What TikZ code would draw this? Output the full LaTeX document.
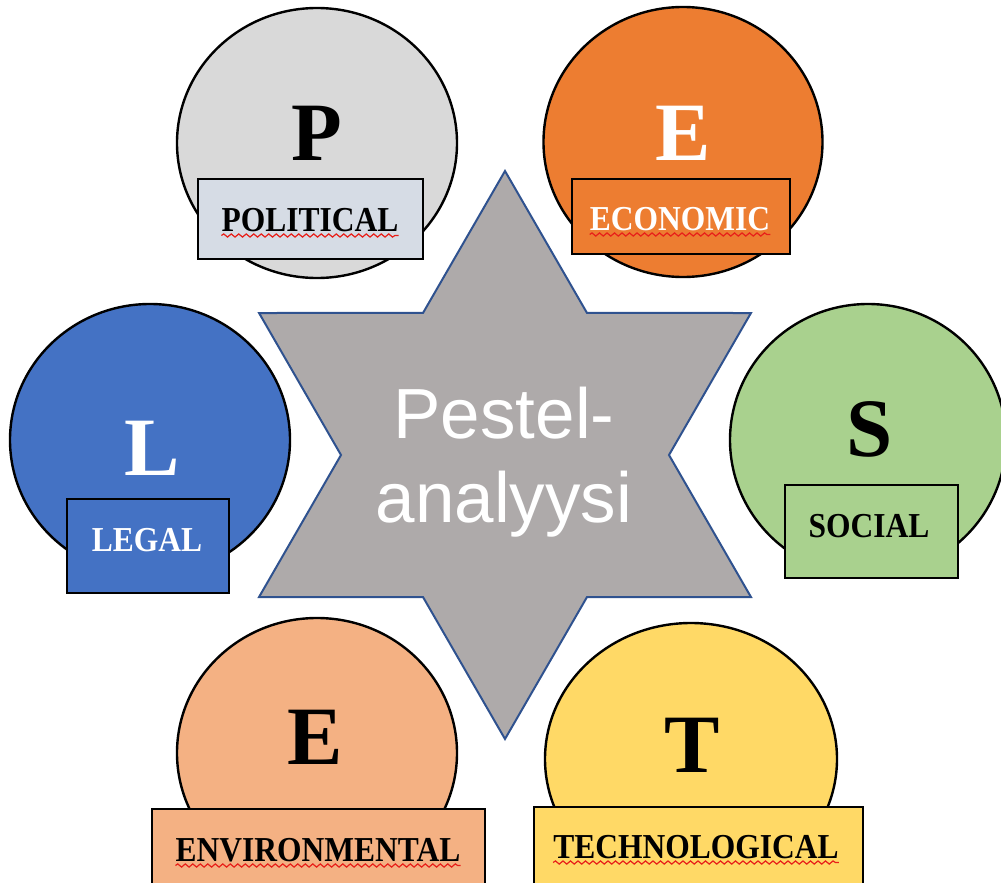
\documentclass[tikz,border=0pt]{standalone}
\usepackage{fontspec}
\usepackage{graphicx}
\usetikzlibrary{shapes.geometric,decorations.pathmorphing,calc}

\newfontfamily\capsfont{Liberation Serif}
\newfontfamily\titlefont{Liberation Sans}

\definecolor{polfill}{HTML}{D9D9D9}
\definecolor{poltag}{HTML}{D6DCE5}
\definecolor{econfill}{HTML}{ED7D31}
\definecolor{legfill}{HTML}{4472C4}
\definecolor{socfill}{HTML}{A9D18E}
\definecolor{envfill}{HTML}{F4B183}
\definecolor{tecfill}{HTML}{FFD966}
\definecolor{starfill}{HTML}{AEAAAA}
\definecolor{starline}{HTML}{2F528F}
\definecolor{spellred}{HTML}{E8201A}

\tikzset{
  factor/.style={ellipse, draw=black, line width=2.4pt, inner sep=0pt},
  tagbox/.style={rectangle, draw=black, line width=1.4pt, inner sep=0pt},
  initial/.style={font=\capsfont\bfseries\fontsize{83}{83}\selectfont, inner sep=0pt, anchor=base},
  caption/.style={font=\capsfont\bfseries\fontsize{35}{35}\selectfont, inner sep=0pt, anchor=base},
  spell/.style={spellred, line width=1.2pt, decorate,
                decoration={snake, amplitude=1.6pt, segment length=7.5pt}},
  hubtext/.style={font=\titlefont\fontsize{71}{84}\selectfont, text=white, inner sep=0pt, anchor=base},
}
\newcommand{\capword}[1]{\scalebox{0.9}[1]{#1}}

\begin{document}
\begin{tikzpicture}[x=1pt,y=-1pt]
  \useasboundingbox (0,0) rectangle (1001,883);
  \clip (0,0) rectangle (1001,883);

  % central six-pointed star
  \coordinate (ctr) at (505,455);
  \fill[starfill, draw=starline, line width=2pt, line join=miter]
    ($(ctr)+(90:284)$) -- ($(ctr)+(60:164)$) -- ($(ctr)+(30:284)$) --
    ($(ctr)+(0:164)$) -- ($(ctr)+(-30:284)$) -- ($(ctr)+(-60:164)$) --
    ($(ctr)+(-90:284)$) -- ($(ctr)+(-120:164)$) -- ($(ctr)+(-150:284)$) --
    ($(ctr)+(180:164)$) -- ($(ctr)+(150:284)$) -- ($(ctr)+(120:164)$) -- cycle;
  \node[hubtext] (hubA) at (504,438) {Pestel-};
  \node[hubtext] (hubB) at (504,522) {analyysi};

  % P - political
  \node[factor, fill=polfill, minimum width=280pt, minimum height=270pt] (polC) at (317,143) {};
  \node[initial] (polL) at (317,160) {P};
  \node[tagbox, fill=poltag, minimum width=225pt, minimum height=80pt] (polT) at (310.5,219) {};
  \node[caption] (polW) at (310,231) {\capword{POLITICAL}};
  \draw[spell] ($(polW.base west)+(0,4.5)$) -- ($(polW.base east)+(0,4.5)$);

  % E - economic
  \node[factor, fill=econfill, minimum width=279pt, minimum height=270pt] (ecoC) at (683,142) {};
  \node[initial, text=white] (ecoL) at (683,160) {E};
  \node[tagbox, fill=econfill, minimum width=218pt, minimum height=75pt] (ecoT) at (681,216.5) {};
  \node[caption, text=white] (ecoW) at (680,230) {\capword{ECONOMIC}};
  \draw[spell] ($(ecoW.base west)+(0,4.5)$) -- ($(ecoW.base east)+(0,4.5)$);

  % L - legal
  \node[factor, fill=legfill, minimum width=280pt, minimum height=272pt] (legC) at (150,440) {};
  \node[initial, text=white] (legL) at (152,475) {L};
  \node[tagbox, fill=legfill, minimum width=162pt, minimum height=94pt] (legT) at (148,546) {};
  \node[caption, text=white] (legW) at (147,551) {\capword{LEGAL}};

  % S - social
  \node[factor, fill=socfill, minimum width=276pt, minimum height=272pt] (socC) at (868,440) {};
  \node[initial] (socL) at (870,456) {S};
  \node[tagbox, fill=socfill, minimum width=173pt, minimum height=93pt] (socT) at (871.5,531.5) {};
  \node[caption] (socW) at (869,537) {\capword{SOCIAL}};

  % E - environmental
  \node[factor, fill=envfill, minimum width=280pt, minimum height=270pt] (envC) at (317,753) {};
  \node[initial] (envL) at (315,764) {E};
  \node[tagbox, fill=envfill, minimum width=333pt, minimum height=91pt] (envT) at (318.5,854.5) {};
  \node[caption] (envW) at (318,861) {\capword{ENVIRONMENTAL}};
  \draw[spell] ($(envW.base west)+(0,4.5)$) -- ($(envW.base east)+(0,4.5)$);

  % T - technological
  \node[factor, fill=tecfill, minimum width=292pt, minimum height=272pt] (tecC) at (691,759) {};
  \node[initial] (tecL) at (692,772) {T};
  \node[tagbox, fill=tecfill, minimum width=329pt, minimum height=93pt] (tecT) at (698.5,853.5) {};
  \node[caption] (tecW) at (696,858) {\capword{TECHNOLOGICAL}};
  \draw[spell] ($(tecW.base west)+(0,4.5)$) -- ($(tecW.base east)+(0,4.5)$);
\end{tikzpicture}
\end{document}
